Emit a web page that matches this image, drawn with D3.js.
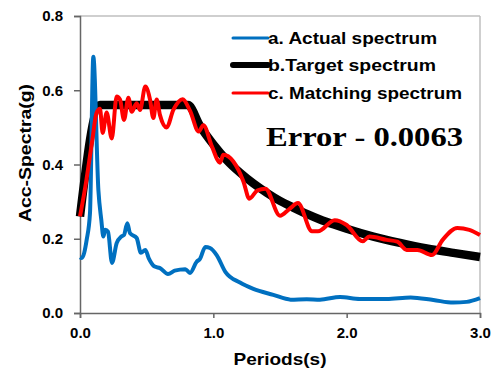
<!DOCTYPE html>
<html>
<head>
<meta charset="utf-8">
<script src="https://cdn.jsdelivr.net/npm/d3@7"></script>
<style>
  body { margin: 0; background: #fff; }
  text { font-family: "Liberation Sans", Arial, sans-serif; font-weight: bold; fill: #000; }
</style>
</head>
<body>
<div id="chart"></div>
<script>
const xTicks = [0, 1, 2, 3];
const yTicks = [0, 0.2, 0.4, 0.6, 0.8];

const periodsActual = [0, 0.013, 0.05, 0.075, 0.1, 0.138, 0.16, 0.175, 0.19, 0.21, 0.24, 0.275, 0.31, 0.33, 0.355, 0.375, 0.425, 0.457, 0.49, 0.515, 0.56, 0.6, 0.66, 0.71, 0.79, 0.825, 0.875, 0.9, 0.94, 0.975, 1.025, 1.09, 1.2, 1.3, 1.45, 1.58, 1.7, 1.8, 1.95, 2.1, 2.3, 2.48, 2.65, 2.8, 2.9, 3.0];
const actualValues  = [0.15, 0.148, 0.197, 0.27, 0.69, 0.33, 0.25, 0.206, 0.224, 0.219, 0.135, 0.188, 0.206, 0.21, 0.242, 0.215, 0.202, 0.162, 0.17, 0.148, 0.125, 0.121, 0.105, 0.114, 0.118, 0.108, 0.138, 0.146, 0.178, 0.175, 0.156, 0.111, 0.082, 0.065, 0.049, 0.036, 0.037, 0.036, 0.043, 0.038, 0.038, 0.042, 0.035, 0.028, 0.03, 0.04];

const periodsTarget = [0, 0.15, 0.81, 0.9, 1.0, 1.1, 1.2, 1.3, 1.4, 1.5, 1.6, 1.7, 1.8, 1.9, 2.0, 2.2, 2.4, 2.6, 2.8, 3.0];
const targetValues  = [0.26, 0.56, 0.56, 0.504, 0.454, 0.412, 0.378, 0.349, 0.324, 0.302, 0.284, 0.267, 0.252, 0.239, 0.227, 0.206, 0.189, 0.174, 0.162, 0.151];

const periodsMatching = [0, 0.04, 0.09, 0.125, 0.15, 0.17, 0.2, 0.238, 0.275, 0.3, 0.33, 0.363, 0.388, 0.425, 0.45, 0.49, 0.525, 0.55, 0.575, 0.6, 0.65, 0.7, 0.77, 0.825, 0.89, 0.925, 0.99, 1.05, 1.075, 1.15, 1.225, 1.27, 1.33, 1.39, 1.5, 1.57, 1.635, 1.74, 1.785, 1.91, 2.0, 2.12, 2.17, 2.3, 2.38, 2.45, 2.53, 2.64, 2.72, 2.83, 2.92, 3.0];
const matchingValues  = [0.26, 0.34, 0.46, 0.54, 0.55, 0.485, 0.54, 0.47, 0.583, 0.575, 0.52, 0.58, 0.542, 0.565, 0.547, 0.61, 0.575, 0.525, 0.575, 0.533, 0.5, 0.547, 0.576, 0.545, 0.489, 0.506, 0.448, 0.405, 0.426, 0.408, 0.355, 0.308, 0.33, 0.335, 0.262, 0.28, 0.296, 0.22, 0.22, 0.25, 0.237, 0.193, 0.206, 0.197, 0.192, 0.17, 0.17, 0.156, 0.197, 0.229, 0.224, 0.21];

const seriesNames = ["a. Actual spectrum", "b.Target spectrum", "c. Matching spectrum"];
const seriesColors = ["#0070C0", "#000000", "#FF0000"];
const errorLabel = "Error - 0.0063";

const W = 496, H = 374;
const margin = { top: 16, right: 16, bottom: 61, left: 80 };
const width = W - margin.left - margin.right;
const height = H - margin.top - margin.bottom;

const svg = d3.select("#chart").append("svg")
  .attr("width", W)
  .attr("height", H);

const g = svg.append("g")
  .attr("transform", `translate(${margin.left},${margin.top})`);

const x = d3.scaleLinear().domain([0, 3]).range([0, width]);
const y = d3.scaleLinear().domain([0, 0.8]).range([height, 0]);

// frame (top / right light grey)
g.append("line").attr("x1", 0).attr("x2", width).attr("y1", 0).attr("y2", 0)
  .attr("stroke", "#bfbfbf").attr("stroke-width", 1.5);
g.append("line").attr("x1", width).attr("x2", width).attr("y1", 0).attr("y2", height)
  .attr("stroke", "#bfbfbf").attr("stroke-width", 1.5);

// axes
const yAxis = g.append("g")
  .call(d3.axisLeft(y).tickValues(yTicks).tickFormat(d3.format(".1f")).tickSize(6).tickPadding(11));
const xAxis = g.append("g")
  .attr("transform", `translate(0,${height})`)
  .call(d3.axisBottom(x).tickValues(xTicks).tickFormat(d3.format(".1f")).tickSize(5).tickPadding(9));

[yAxis, xAxis].forEach(a => {
  a.select(".domain").attr("stroke", "#666").attr("stroke-width", 1.5);
  a.selectAll(".tick line").attr("stroke", "#666").attr("stroke-width", 1.5);
  a.selectAll(".tick text")
    .attr("fill", "#000")
    .style("font-family", "'Liberation Sans', Arial, sans-serif")
    .style("font-weight", "bold")
    .style("font-size", "15px");
});

// lines
const makeLine = d3.line()
  .x(d => x(d[0]))
  .y(d => y(d[1]))
  .curve(d3.curveMonotoneX);

const actual = periodsActual.map((t, i) => [t, actualValues[i]]);
const target = periodsTarget.map((t, i) => [t, targetValues[i]]);
const matching = periodsMatching.map((t, i) => [t, matchingValues[i]]);

g.append("path").datum(target)
  .attr("fill", "none").attr("stroke", seriesColors[1]).attr("stroke-width", 8.5)
  .attr("stroke-linejoin", "round").attr("d", makeLine);
g.append("path").datum(actual)
  .attr("fill", "none").attr("stroke", seriesColors[0]).attr("stroke-width", 4)
  .attr("stroke-linejoin", "round").attr("d", makeLine);
g.append("path").datum(matching)
  .attr("fill", "none").attr("stroke", seriesColors[2]).attr("stroke-width", 4)
  .attr("stroke-linejoin", "round").attr("d", makeLine);

// axis titles
svg.append("text")
  .attr("x", 280).attr("y", 365)
  .attr("text-anchor", "middle")
  .attr("textLength", 93).attr("lengthAdjust", "spacingAndGlyphs")
  .style("font-size", "17px")
  .text("Periods(s)");

svg.append("text")
  .attr("transform", "translate(31,153) rotate(-90)")
  .attr("text-anchor", "middle")
  .attr("textLength", 138).attr("lengthAdjust", "spacingAndGlyphs")
  .style("font-size", "17px")
  .text("Acc-Spectra(g)");

// legend
const legendRows = [38, 65, 93];
const legendWidths = [3, 6, 3];
const legendTextLen = [169, 168, 194];
const legend = svg.append("g");
seriesNames.forEach((name, i) => {
  legend.append("line")
    .attr("x1", 233).attr("x2", 268)
    .attr("y1", legendRows[i]).attr("y2", legendRows[i])
    .attr("stroke", seriesColors[i]).attr("stroke-width", legendWidths[i])
    .attr("stroke-linecap", "round");
  legend.append("text")
    .attr("x", 268).attr("y", legendRows[i] + 6)
    .attr("textLength", legendTextLen[i]).attr("lengthAdjust", "spacingAndGlyphs")
    .style("font-size", "16px")
    .text(name);
});

svg.append("text")
  .attr("x", 266).attr("y", 146)
  .attr("textLength", 197).attr("lengthAdjust", "spacingAndGlyphs")
  .style("font-family", "'Liberation Serif', 'Times New Roman', serif")
  .style("font-size", "28px")
  .text(errorLabel);
</script>
</body>
</html>
